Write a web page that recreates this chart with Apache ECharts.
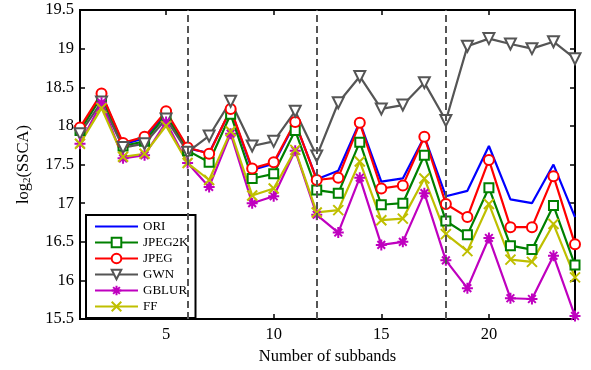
<!DOCTYPE html>
<html>
<head>
<meta charset="utf-8">
<script src="https://cdn.jsdelivr.net/npm/echarts@6/dist/echarts.min.js"></script>
<style>html,body{margin:0;padding:0;background:#fff}#c{width:591px;height:370px}</style>
</head>
<body>
<div id="c"></div>
<script>
const subbands = [1,2,3,4,5,6,7,8,9,10,11,12,13,14,15,16,17,18,19,20,21,22,23,24];
const xTicks = [5,10,15,20];
const dividers = [6,12,18];
const ORI    = [17.96,18.41,17.76,17.84,18.17,17.71,17.65,18.21,17.43,17.51,18.04,17.31,17.42,18.05,17.28,17.32,17.86,17.09,17.16,17.74,17.05,17.00,17.50,16.82];
const JPEG2K = [17.94,18.38,17.74,17.80,18.14,17.68,17.53,18.15,17.32,17.38,17.94,17.17,17.13,17.79,16.98,17.00,17.62,16.77,16.59,17.20,16.45,16.40,16.97,16.20];
const JPEG   = [17.98,18.42,17.78,17.86,18.19,17.72,17.64,18.22,17.45,17.53,18.05,17.30,17.33,18.04,17.19,17.23,17.86,16.99,16.82,17.56,16.69,16.69,17.35,16.47];
const GWN    = [17.90,18.31,17.72,17.77,18.09,17.66,17.87,18.32,17.74,17.80,18.19,17.61,18.30,18.64,18.22,18.27,18.56,18.07,19.03,19.13,19.06,19.00,19.09,18.87];
const GBLUR  = [17.77,18.30,17.58,17.62,18.05,17.52,17.21,17.90,17.00,17.09,17.68,16.85,16.62,17.33,16.46,16.50,17.13,16.26,15.90,16.55,15.77,15.76,16.32,15.54];
const FF     = [17.77,18.23,17.60,17.64,18.00,17.52,17.30,17.93,17.10,17.19,17.69,16.88,16.91,17.54,16.78,16.80,17.32,16.60,16.38,16.99,16.27,16.24,16.73,16.04];

const FONT = 'Liberation Serif';
const pairs = arr => subbands.map((x,i)=>[x,arr[i]]);
const STAR = 'path://M5,0L5,10M0,5L10,5M1.5,1.5L8.5,8.5M8.5,1.5L1.5,8.5';
const XMARK = 'path://M0,0L10,10M10,0L0,10';

function mk(name, data, color, symbol, size, extra) {
  const s = {
    name, type: 'line', data: pairs(data), xAxisIndex: 0, yAxisIndex: 0,
    symbol: symbol, symbolSize: size, showSymbol: symbol !== 'none',
    lineStyle: {color, width: 2.2, type: 'solid'},
    itemStyle: {color: color, borderColor: color, borderWidth: 2},
    emphasis: {disabled: true}, animation: false, z: 3
  };
  return Object.assign(s, extra || {});
}

const chart = echarts.init(document.getElementById('c'), null, {renderer: 'canvas'});
chart.setOption({
  animation: false,
  grid: {left: 80, right: 16, top: 10, bottom: 48, show: true, borderColor: '#000', borderWidth: 2, backgroundColor: 'transparent'},
  xAxis: [{
    type: 'value', min: 1, max: 24, position: 'bottom',
    name: 'Number of subbands', nameLocation: 'middle', nameGap: 27,
    nameTextStyle: {fontFamily: FONT, fontSize: 16.5, color: '#000'},
    axisLine: {show: true, onZero: false, lineStyle: {color: '#000', width: 2}},
    axisTick: {show: true, inside: true, length: 5, customValues: xTicks, lineStyle: {color: '#000', width: 1.5}},
    axisLabel: {customValues: xTicks, fontFamily: FONT, fontSize: 16.5, color: '#000', margin: 7},
    splitLine: {show: false}
  },{
    type: 'value', min: 1, max: 24, position: 'top',
    axisLine: {show: true, onZero: false, lineStyle: {color: '#000', width: 2}},
    axisTick: {show: true, inside: true, length: 5, customValues: xTicks, lineStyle: {color: '#000', width: 1.5}},
    axisLabel: {show: false}, splitLine: {show: false}
  }],
  yAxis: [{
    type: 'value', min: 15.5, max: 19.5, interval: 0.5, position: 'left',
    name: 'log{sub|2}(SSCA)', nameLocation: 'middle', nameRotate: 90, nameGap: 47,
    nameTextStyle: {fontFamily: FONT, fontSize: 16.5, color: '#000',
      rich: {sub: {fontFamily: FONT, fontSize: 11, color: '#000', verticalAlign: 'bottom', padding: [7,0,0,0]}}},
    axisLine: {show: true, onZero: false, lineStyle: {color: '#000', width: 2}},
    axisTick: {show: true, inside: true, length: 5, lineStyle: {color: '#000', width: 1.5}},
    axisLabel: {fontFamily: FONT, fontSize: 16.5, color: '#000', margin: 6},
    splitLine: {show: false}
  },{
    type: 'value', min: 15.5, max: 19.5, interval: 0.5, position: 'right',
    axisLine: {show: true, onZero: false, lineStyle: {color: '#000', width: 2}},
    axisTick: {show: true, inside: true, length: 5, lineStyle: {color: '#000', width: 1.5}},
    axisLabel: {show: false}, splitLine: {show: false}
  }],
  legend: {
    orient: 'vertical', left: 86, top: 215,
    backgroundColor: '#fff', borderColor: '#000', borderWidth: 2,
    padding: [5, 7, 5, 8], itemGap: 3, itemWidth: 43, itemHeight: 12,
    textStyle: {fontFamily: FONT, fontSize: 13, color: '#000'},
    data: [{name: 'ORI', itemStyle: {opacity: 0}}, 'JPEG2K', 'JPEG', 'GWN', 'GBLUR', 'FF'],
    selectedMode: false
  },
  series: [
    mk('ORI', ORI, '#0000ff', 'none', 0, {
      markLine: {
        silent: true, symbol: ['none','none'], label: {show: false},
        lineStyle: {color: '#555', type: [7,4], width: 2},
        data: dividers.map(d => ({xAxis: d}))
      }
    }),
    mk('JPEG2K', JPEG2K, '#008000', 'emptyRect', 9),
    mk('JPEG', JPEG, '#ff0000', 'emptyCircle', 10),
    mk('GWN', GWN, '#555555', 'emptyTriangle', 11, {symbolRotate: 180}),
    mk('GBLUR', GBLUR, '#bf00bf', STAR, 11),
    mk('FF', FF, '#bfbf00', XMARK, 10)
  ]
});
</script>
</body>
</html>
